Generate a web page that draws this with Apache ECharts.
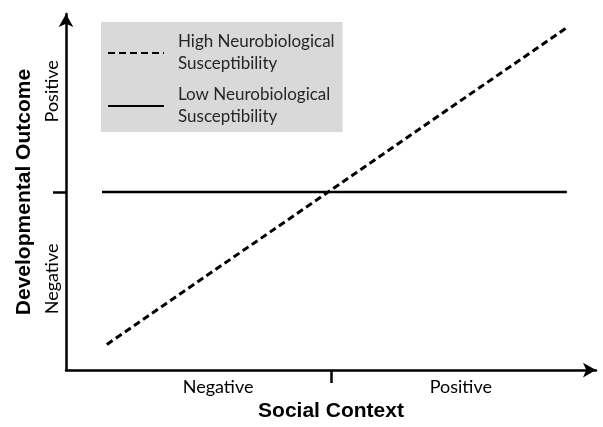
<!DOCTYPE html>
<html>
<head>
<meta charset="utf-8">
<script src="https://cdn.jsdelivr.net/npm/echarts@6/dist/echarts.min.js"></script>
<style>
  html, body { margin: 0; padding: 0; background: #fff; }
  #chart { width: 603px; height: 427px; }
</style>
</head>
<body>
<div id="chart"></div>
<script>
// series values, [social context, developmental outcome] on a 0-100 scale
const highSusceptibility = [[7.7, 7.2], [94.7, 96.4]]
const lowSusceptibility = [[6.8, 50], [94.5, 50]]
const seriesNames = ['High Neurobiological\nSusceptibility', 'Low Neurobiological\nSusceptibility']

// tick labels and where they sit on each axis
const xTickLabels = ['Negative', 'Positive']
const xTickLabelValues = [28.7, 74.5]
const yTickLabels = ['Negative', 'Positive']
const yTickLabelValues = [25.6, 78.3]
const midTick = [50]

const chart = echarts.init(document.getElementById('chart'))

const labelFont = 'Lato, "Open Sans", sans-serif'
const titleFont = '"Liberation Sans", Arial, sans-serif'

const axisCommon = {
  type: 'value',
  min: 0,
  max: 100,
  splitLine: { show: false },
  axisLine: {
    show: true,
    symbol: ['none', 'arrow'],
    symbolSize: [11, 13],
    lineStyle: { color: '#000', width: 2.5 }
  },
  axisTick: {
    show: true,
    customValues: midTick,
    length: 13,
    lineStyle: { color: '#000', width: 2.5 }
  },
  nameLocation: 'middle',
  nameTextStyle: {
    fontFamily: titleFont,
    fontWeight: 'bold',
    fontSize: 21,
    color: '#000'
  }
}

const option = {
  animation: false,
  backgroundColor: '#fff',
  color: ['#000', '#000'],
  grid: { left: 66, right: 7, top: 14, bottom: 53 },
  legend: {
    orient: 'vertical',
    left: 101,
    top: 22,
    backgroundColor: '#d9d9d9',
    padding: [9, 8, 4, 6],
    itemWidth: 56,
    itemHeight: 14,
    itemGap: 9,
    data: seriesNames,
    itemStyle: { opacity: 0 },
    textStyle: {
      fontFamily: labelFont,
      fontSize: 17,
      lineHeight: 22,
      color: '#262626',
      padding: [0, 0, 0, 9]
    }
  },
  xAxis: Object.assign({}, axisCommon, {
    name: 'Social Context',
    nameGap: 27,
    axisLabel: {
      customValues: xTickLabelValues,
      formatter: (v) => xTickLabels[xTickLabelValues.indexOf(v)],
      margin: 8,
      fontFamily: labelFont,
      fontSize: 18,
      color: '#000'
    }
  }),
  yAxis: Object.assign({}, axisCommon, {
    name: 'Developmental Outcome',
    nameGap: 28,
    axisLabel: {
      customValues: yTickLabelValues,
      formatter: (v) => yTickLabels[yTickLabelValues.indexOf(v)],
      rotate: 90,
      margin: 5,
      fontFamily: labelFont,
      fontSize: 18,
      color: '#000'
    }
  }),
  series: [
    {
      name: seriesNames[0],
      type: 'line',
      data: highSusceptibility,
      showSymbol: false,
      symbol: 'none',
      lineStyle: { color: '#000', width: 3, type: [7, 4] }
    },
    {
      name: seriesNames[1],
      type: 'line',
      data: lowSusceptibility,
      showSymbol: false,
      symbol: 'none',
      lineStyle: { color: '#000', width: 2.5, type: 'solid' }
    }
  ]
}

chart.setOption(option)
</script>
</body>
</html>
